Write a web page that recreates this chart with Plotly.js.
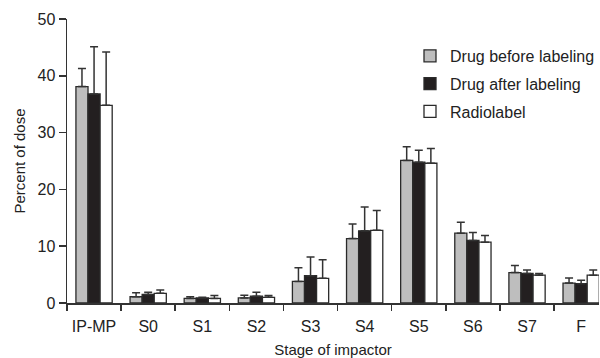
<!DOCTYPE html>
<html>
<head>
<meta charset="utf-8">
<script src="https://cdn.plot.ly/plotly-3.0.1.min.js"></script>
<style>html,body{margin:0;padding:0;background:#fff;}#chart{width:600px;height:358px;}</style>
</head>
<body>
<div id="chart"></div>
<script>
const categories = ["IP-MP", "S0", "S1", "S2", "S3", "S4", "S5", "S6", "S7", "F"];
const seriesNames = ["Drug before labeling", "Drug after labeling", "Radiolabel"];
const beforeValues = [38.1, 1.1, 0.8, 0.9, 3.8, 11.35, 25.1, 12.3, 5.35, 3.5];
const beforeErr    = [3.2, 0.7, 0.3, 0.45, 2.4, 2.55, 2.4, 1.9, 1.25, 0.9];
const afterValues  = [36.8, 1.5, 0.9, 1.2, 4.8, 12.7, 24.8, 11.0, 5.2, 3.4];
const afterErr     = [8.3, 0.4, 0.1, 0.7, 3.3, 4.2, 2.1, 1.4, 0.6, 0.6];
const radioValues  = [34.8, 1.7, 0.8, 1.0, 4.35, 12.8, 24.6, 10.7, 4.9, 4.9];
const radioErr     = [9.4, 0.6, 0.5, 0.3, 3.25, 3.5, 2.6, 1.2, 0.3, 0.9];
const yTicks = [0, 10, 20, 30, 40, 50];

const fills = ["#bebebe", "#231f20", "#ffffff"];
const vals = [beforeValues, afterValues, radioValues];
const errs = [beforeErr, afterErr, radioErr];
const FONT = "Liberation Sans, Arial, Helvetica, sans-serif";

const traces = seriesNames.map((name, i) => ({
  type: "bar",
  name: name,
  legendgroup: "g" + i,
  x: categories,
  y: vals[i],
  marker: {color: fills[i], line: {color: "#2a2a2a", width: 1.3}},
  error_y: {
    type: "data", symmetric: false,
    array: errs[i], arrayminus: errs[i].map(() => 0),
    color: "#333333", thickness: 1.5, width: 4
  },
  hoverinfo: "skip"
}));

const layout = {
  width: 600, height: 358,
  margin: {l: 67, r: 0, t: 19, b: 55},
  paper_bgcolor: "#ffffff", plot_bgcolor: "#ffffff",
  font: {family: FONT, color: "#222222", size: 16},
  barmode: "group",
  bargap: 0.33,
  bargroupgap: 0,
  showlegend: true,
  legend: {
    x: 0.645, xanchor: "left", y: 0.93, yanchor: "top",
    font: {family: FONT, size: 16, color: "#222222"},
    traceorder: "grouped", tracegroupgap: 4,
    bgcolor: "rgba(0,0,0,0)", itemwidth: 30
  },
  xaxis: {
    type: "category",
    range: [-0.5, 9.33],
    tickson: "boundaries",
    ticks: "outside", ticklen: 6, tickwidth: 1.5, tickcolor: "#333333",
    ticklabelstandoff: 8,
    showline: true, linecolor: "#333333", linewidth: 1.5,
    showgrid: false, zeroline: false,
    tickfont: {family: FONT, size: 16, color: "#222222"},
    title: {text: "Stage of impactor", font: {family: FONT, size: 15, color: "#222222"}, standoff: 14}
  },
  yaxis: {
    range: [0, 50],
    tickvals: yTicks,
    ticks: "outside", ticklen: 7, tickwidth: 1.5, tickcolor: "#333333",
    showline: true, linecolor: "#333333", linewidth: 1.5,
    showgrid: false, zeroline: false,
    tickfont: {family: FONT, size: 16, color: "#222222"},
    title: {text: "Percent of dose", font: {family: FONT, size: 15, color: "#222222"}, standoff: 8}
  }
};

Plotly.newPlot("chart", traces, layout, {displayModeBar: false, staticPlot: true});
</script>
</body>
</html>
